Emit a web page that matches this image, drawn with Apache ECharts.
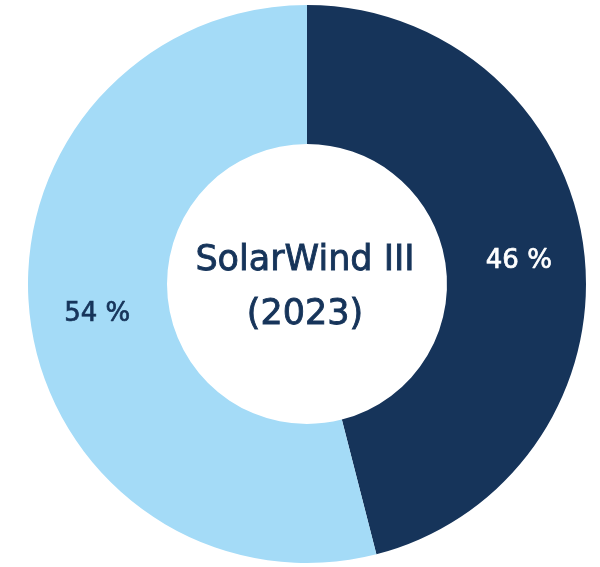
<!DOCTYPE html>
<html>
<head>
<meta charset="utf-8">
<script src="https://cdn.jsdelivr.net/npm/echarts@6/dist/echarts.min.js"></script>
<style>
  html, body { margin: 0; padding: 0; background: #fff; }
  #chart { width: 600px; height: 567px; }
</style>
</head>
<body>
<div id="chart"></div>
<script>
// data
const names = ['Share A', 'Share B'];
const values = [46, 54];
const colors = ['#16345a', '#a4dbf7'];
const labelColors = ['#ffffff', '#16345a'];
const centerTitle = ['SolarWind III', '(2023)'];

const chart = echarts.init(document.getElementById('chart'));

const option = {
  animation: false,
  title: {
    text: centerTitle.join('\n'),
    left: 300,
    top: 283,
    textAlign: 'center',
    textVerticalAlign: 'middle',
    textStyle: {
      fontFamily: 'DejaVu Sans',
      fontSize: 35,
      fontWeight: 'normal',
      color: '#16345a',
      lineHeight: 54,
      textBorderColor: '#16345a',
      textBorderWidth: 0.9
    }
  },
  series: [{
    type: 'pie',
    center: [307, 284],
    radius: [140, 279],
    startAngle: 90,
    clockwise: true,
    label: {
      show: true,
      position: 'inside',
      formatter: p => p.value + ' %',
      fontFamily: 'DejaVu Sans',
      fontSize: 26,
      fontWeight: 'normal',
      offset: [1, 4]
    },
    labelLine: { show: false },
    data: values.map((v, i) => ({
      name: names[i],
      value: v,
      itemStyle: { color: colors[i] },
      label: { color: labelColors[i], textBorderColor: labelColors[i], textBorderWidth: 0.7 }
    }))
  }]
};

chart.setOption(option);
</script>
</body>
</html>
